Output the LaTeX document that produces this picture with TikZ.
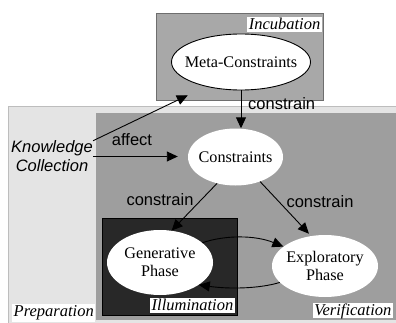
\documentclass[tikz,border=0pt]{standalone}
\usepackage{fontspec}
\setmainfont{Liberation Serif}
\setsansfont{Liberation Sans}
\usetikzlibrary{shapes.geometric,arrows.meta}

\definecolor{prepfill}{HTML}{E4E4E4}
\definecolor{prepline}{HTML}{BDBDBD}
\definecolor{verfill}{HTML}{9E9E9E}
\definecolor{incfill}{HTML}{A8A8A8}
\definecolor{incline}{HTML}{6E6E6E}
\definecolor{illfill}{HTML}{282828}

\begin{document}
\begin{tikzpicture}[x=1pt,y=1pt,
  bubble/.style={ellipse, fill=white, inner sep=0pt},
  bubbletext/.style={align=center, inner sep=0pt, font=\fontsize{16.2}{18}\selectfont},
  tag/.style={fill=white, inner sep=1.5pt, text height=11pt, text depth=1pt,
              font=\fontsize{16.5}{18}\selectfont\itshape},
  lbl/.style={inner sep=0pt, font=\sffamily\fontsize{16.5}{18}\selectfont},
  source/.style={inner sep=0pt, align=center, font=\sffamily\itshape\fontsize{16.5}{19}\selectfont},
  link/.style={line width=0.9pt, -{Triangle[length=11pt,width=10pt]}},
]
\useasboundingbox (0,0) rectangle (396,322);
\clip (0,0) rectangle (396,322);

% phase regions
\filldraw[fill=prepfill, draw=prepline, line width=0.8pt] (8,216) rectangle (402,-6);
\fill[verfill] (96,209) rectangle (402,2);
\filldraw[fill=incfill, draw=incline, line width=0.8pt] (156,309) rectangle (323,222);
\filldraw[fill=illfill, draw=black, line width=0.8pt] (102,104) rectangle (237,7);

% region names
\node[tag, anchor=north east] (incub) at (322,305) {Incubation};
\node[tag, anchor=south east] (illum) at (235,9) {Illumination};
\node[tag, anchor=south east] (verif) at (393,4) {Verification};
\node[tag, text depth=4pt, anchor=south west] (prep) at (12,0) {Preparation};

% concepts
\node[bubble, draw=black, line width=0.9pt, minimum width=139pt, minimum height=56pt,
      label={[bubbletext]center:Meta-Constraints}] (meta) at (241,260) {};
\node[bubble, minimum width=95pt, minimum height=57pt,
      label={[bubbletext]center:Constraints}] (cons) at (235.5,165) {};
\node[bubble, minimum width=106pt, minimum height=65pt,
      label={[bubbletext]center:{Generative\\Phase}}] (gen) at (160,59.5) {};
\node[bubble, minimum width=106pt, minimum height=62pt,
      label={[bubbletext]center:{Exploratory\\Phase}}] (expl) at (325,56) {};

\node[source] (kc) at (52,165.5) {Knowledge\\Collection};

% connectors
\draw[link, shorten >=20pt] (kc.north east) -- (meta.215);
\draw[link, shorten >=10pt] (kc.east) -- (kc.east -| cons.west);
\draw[link] (meta.south) -- (meta.south |- cons.north);
\draw[link] (cons.235) -- (gen.70);
\draw[link, shorten >=3pt] (cons.315) -- (expl.115);
\draw[link] (gen.25) .. controls (225,87) and (255,87) .. (expl.155);
\draw[link] (expl.200) .. controls (258,33) and (228,33) .. (gen.330);

% connector labels
\node[lbl, anchor=west] (l1) at (248,218) {constrain};
\node[lbl] (l2) at (132,182) {affect};
\node[lbl] (l3) at (160,122) {constrain};
\node[lbl] (l4) at (320,120) {constrain};
\end{tikzpicture}
\end{document}
